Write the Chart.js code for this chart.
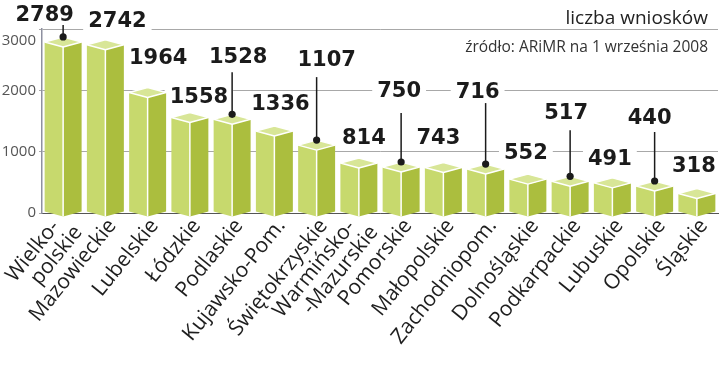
<!DOCTYPE html>
<html><head><meta charset="utf-8">
<script src="https://cdn.jsdelivr.net/npm/chart.js@4.4.1/dist/chart.umd.min.js"></script>
<style>html,body{margin:0;padding:0;background:#fff;}#wrap{position:relative;width:720px;height:368px;}</style>
</head><body><div id="wrap"><canvas id="c" width="720" height="368"></canvas></div>
<script>
// ---- data ----
const categories = [["Wielko-","polskie"],"Mazowieckie","Lubelskie","Łódzkie","Podlaskie","Kujawsko-Pom.","Świętokrzyskie",["Warmińsko-","-Mazurskie"],"Pomorskie","Małopolskie","Zachodniopom.","Dolnośląskie","Podkarpackie","Lubuskie","Opolskie","Śląskie"];
const applications = [2789,2742,1964,1558,1528,1336,1107,814,750,743,716,552,517,491,440,318];
const yTicks = [0,1000,2000,3000];
const titleText = "liczba wniosków";
const sourceText = "źródło: ARiMR na 1 września 2008";

// ---- label layout (pixel offsets of each value label from its bar top; callout line top offset) ----
const labelLayout = [
  {dx:-18.5,dy:-27,line:10},{dx:12,dy:-24},{dx:10.5,dy:-34.5},{dx:9,dy:-20.5},
  {dx:6,dy:-63,line:16},{dx:6,dy:-28},{dx:10,dy:-86,line:18},{dx:5,dy:-26},
  {dx:-2,dy:-76,line:22},{dx:-5,dy:-30},{dx:-8,dy:-78,line:12},{dx:-2,dy:-27},
  {dx:-4,dy:-69,line:18},{dx:-2.5,dy:-24},{dx:-5,dy:-68,line:14},{dx:-3,dy:-27.5}
];
const COL = {front:'#c7d96d', side:'#abbe3e', top:'#d8e697', edge:'#ffffff'};
const VALUE_FONT = 'bold 21px "DejaVu Sans"';
const XLAB = {font:'21px "Open Sans"', color:'#1e1e1e', angle:-51, dx:7, dy:9, lineH:21, hang:10};
const YLAB = {font:'15px "Open Sans"', color:'#555', gap:6, topDrop:12};

function labelBoxes(chart){
  const meta = chart.getDatasetMeta(0);
  const ctx = chart.ctx;
  ctx.save();
  ctx.font = VALUE_FONT;
  const out = meta.data.map((el,i)=>{
    const L = labelLayout[i];
    const txt = String(applications[i]);
    const w = ctx.measureText(txt).width;
    return {txt, cx: el.x + L.dx, cy: el.y + L.dy, w, L, el};
  });
  ctx.restore();
  return out;
}

const prismPlugin = {
  id:'prism',
  beforeDatasetsDraw(chart){
    const ctx = chart.ctx;
    ctx.save();
    ctx.fillStyle = '#fff';
    labelBoxes(chart).forEach(b=>{
      ctx.fillRect(b.cx - b.w/2 - 5, b.cy - 11, b.w + 10, 22);
    });
    ctx.restore();
  },
  afterDatasetsDraw(chart){
    const ctx = chart.ctx;
    const meta = chart.getDatasetMeta(0);
    const h = 5;
    ctx.save();
    meta.data.forEach(el=>{
      const x = el.x, y = el.y, base = el.base, w = el.width/2;
      ctx.beginPath();
      ctx.moveTo(x-w,y); ctx.lineTo(x,y+h); ctx.lineTo(x,base+h-1); ctx.lineTo(x-w,base-1); ctx.closePath();
      ctx.fillStyle = COL.front; ctx.fill();
      ctx.beginPath();
      ctx.moveTo(x,y+h); ctx.lineTo(x+w,y); ctx.lineTo(x+w,base-1); ctx.lineTo(x,base+h-1); ctx.closePath();
      ctx.fillStyle = COL.side; ctx.fill();
      ctx.beginPath();
      ctx.moveTo(x-w,y); ctx.lineTo(x,y-h); ctx.lineTo(x+w,y); ctx.lineTo(x,y+h); ctx.closePath();
      ctx.fillStyle = COL.top; ctx.fill();
      ctx.strokeStyle = COL.edge; ctx.lineWidth = 1.5; ctx.lineJoin='round';
      ctx.stroke();
      ctx.beginPath(); ctx.moveTo(x,y+h); ctx.lineTo(x,base+h-1); ctx.stroke();
    });
    // value labels + callouts
    ctx.font = VALUE_FONT;
    ctx.textAlign = 'center'; ctx.textBaseline = 'middle';
    labelBoxes(chart).forEach(b=>{
      ctx.fillStyle = '#1b1b1b';
      ctx.fillText(b.txt, b.cx, b.cy + 1);
      if (b.L.line !== undefined){
        const dotY = b.el.y - 5;
        ctx.strokeStyle = '#1b1b1b'; ctx.lineWidth = 1.5;
        ctx.beginPath(); ctx.moveTo(b.el.x, b.cy + b.L.line); ctx.lineTo(b.el.x, dotY); ctx.stroke();
        ctx.beginPath(); ctx.arc(b.el.x, dotY, 3.6, 0, Math.PI*2); ctx.fill();
      }
    });
    // category labels (rotated), anchored at each tick of the x scale
    const xs = chart.scales.x;
    ctx.font = XLAB.font; ctx.fillStyle = XLAB.color;
    ctx.textAlign = 'right'; ctx.textBaseline = 'middle';
    categories.forEach((lab,i)=>{
      const lines = Array.isArray(lab) ? lab : [lab];
      const n = lines.length;
      ctx.save();
      ctx.translate(xs.getPixelForTick(i) + XLAB.dx, xs.top + XLAB.dy);
      ctx.rotate(XLAB.angle*Math.PI/180);
      lines.forEach((ln,k)=>{
        const off = (k-(n-1)/2)*XLAB.lineH;
        ctx.fillText(ln, k<n-1 ? -XLAB.hang : 0, off);
      });
      ctx.restore();
    });
    // y tick labels
    const ys = chart.scales.y;
    ctx.font = YLAB.font; ctx.fillStyle = YLAB.color;
    ctx.textAlign = 'right'; ctx.textBaseline = 'middle';
    yTicks.forEach(v=>{
      const py = ys.getPixelForValue(v) + (v === ys.max ? YLAB.topDrop : 0);
      ctx.fillText(String(v), ys.right - YLAB.gap, py);
    });
    // titles
    ctx.textAlign = 'right'; ctx.textBaseline = 'alphabetic';
    ctx.fillStyle = '#222';
    ctx.font = '19px "Open Sans"';
    ctx.fillText(titleText, 708, 24);
    ctx.fillStyle = '#333';
    ctx.font = '15.5px "Open Sans"';
    ctx.fillText(sourceText, 708, 52);
    ctx.restore();
  }
};

new Chart(document.getElementById('c'), {
  type:'bar',
  data:{labels:categories, datasets:[{data:applications, backgroundColor:'rgba(0,0,0,0)', borderWidth:0, barPercentage:0.875, categoryPercentage:1}]},
  options:{
    responsive:false, animation:false, devicePixelRatio:1,
    layout:{padding:{top:29,right:2,left:0,bottom:0}},
    plugins:{legend:{display:false}, tooltip:{enabled:false}},
    scales:{
      x:{
        grid:{display:false, drawTicks:false},
        border:{display:true,color:'#555',width:1},
        ticks:{display:false, autoSkip:false},
        afterFit(s){s.height=155;}
      },
      y:{
        min:0,max:3000,
        afterBuildTicks(s){s.ticks = yTicks.map(v=>({value:v}));},
        grid:{color:'#a8a8a8',lineWidth:1,tickLength:3,drawTicks:true},
        border:{color:'#8e90a0',width:1.5},
        ticks:{display:false},
        afterFit(s){s.width=42;}
      }
    }
  },
  plugins:[prismPlugin]
});
</script></body></html>
